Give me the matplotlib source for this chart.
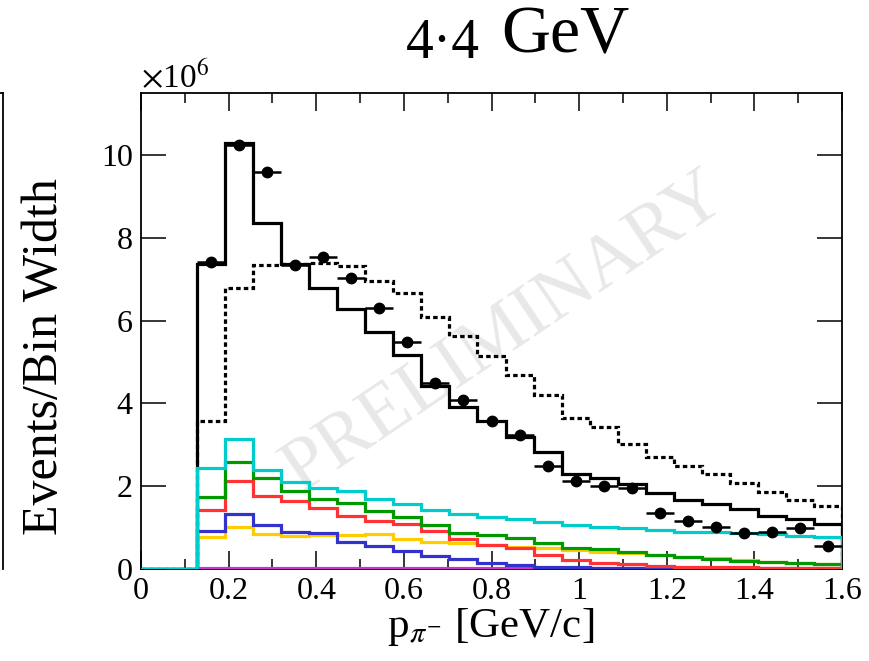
import numpy as np
import matplotlib
matplotlib.use("Agg")
import matplotlib.pyplot as plt
from matplotlib.lines import Line2D
from matplotlib.ticker import MultipleLocator, FuncFormatter

plt.rcParams['font.family'] = ['Liberation Serif', 'DejaVu Serif']
plt.rcParams['mathtext.fontset'] = 'stix'

# 25 bins of 0.064 GeV/c from 0 to 1.6, values in units of 1e6
bin_edges = np.linspace(0, 1.6, 26)

data_points = [None, None, 7.41, 10.25, 9.60, 7.34, 7.54, 7.02, 6.30, 5.48, 4.49, 4.08,
               3.57, 3.24, 2.50, 2.13, 2.01, 1.95, 1.35, 1.17, 1.01, 0.88, 0.89, 0.98, 0.56]
total_fit = [0, 0, 7.38, 10.30, 8.35, 7.38, 6.78, 6.27, 5.73, 5.17, 4.42, 3.91,
             3.57, 3.18, 2.82, 2.29, 2.21, 2.05, 1.84, 1.67, 1.57, 1.46, 1.29, 1.21, 1.09]
total_dotted = [0, 0, 3.57, 6.78, 7.34, 7.36, 7.40, 7.32, 6.96, 6.67, 6.10, 5.63,
                5.14, 4.69, 4.20, 3.66, 3.42, 3.02, 2.71, 2.50, 2.29, 2.07, 1.87, 1.67, 1.53]
cyan_vals = [0, 0, 2.45, 3.14, 2.39, 2.09, 1.95, 1.88, 1.69, 1.57, 1.42, 1.34,
             1.26, 1.20, 1.14, 1.06, 1.02, 0.98, 0.94, 0.90, 0.89, 0.86, 0.85, 0.80, 0.78]
green_vals = [0, 0, 1.73, 2.58, 2.19, 1.89, 1.69, 1.60, 1.40, 1.26, 1.06, 0.86,
              0.82, 0.74, 0.62, 0.50, 0.48, 0.40, 0.34, 0.29, 0.23, 0.20, 0.16, 0.14, 0.12]
red_vals = [0, 0, 1.43, 2.13, 1.77, 1.65, 1.47, 1.28, 1.17, 1.08, 0.91, 0.72,
            0.58, 0.50, 0.34, 0.22, 0.15, 0.12, 0.08, 0.06, 0.05, 0.04, 0.03, 0.03, 0.02]
blue_vals = [0, 0, 0.93, 1.32, 1.06, 0.90, 0.88, 0.66, 0.56, 0.44, 0.32, 0.23,
             0.15, 0.10, 0.06, 0.04, 0.03, 0.02, 0.02, 0.01, 0.01, 0.01, 0.01, 0.01, 0.01]
yellow_vals = [0, 0, 0.77, 1.02, 0.84, 0.80, 0.81, 0.82, 0.85, 0.72, 0.66, 0.64,
               0.58, 0.54, 0.50, 0.46, 0.42, 0.38, 0.34, 0.30, 0.26, 0.22, 0.18, 0.15, 0.12]
magenta_vals = [0, 0, 0.03, 0.03, 0.03, 0.03, 0.03, 0.02, 0.02, 0.02, 0.02, 0.02,
                0.02, 0.02, 0.02, 0.02, 0.02, 0.02, 0.02, 0.02, 0.02, 0.02, 0.02, 0.02, 0.02]

W, H = 869, 661
fig = plt.figure(figsize=(W / 100, H / 100), dpi=100)
ax = fig.add_axes([141 / W, 1 - 569 / H, (842 - 141) / W, (569 - 93) / H])

centers = 0.5 * (bin_edges[:-1] + bin_edges[1:])
half_width = 0.5 * (bin_edges[1] - bin_edges[0])

ax.text(0.83, 5.7, 'PRELIMINARY', rotation=34, color='#e8e8e8', fontsize=55,
        ha='center', va='center', zorder=0)

ax.stairs(total_dotted, bin_edges, color='black', lw=2.3, linestyle=(0, (1.4, 1.0)), zorder=3)
ax.stairs(total_fit, bin_edges, color='black', lw=2.3, zorder=3)

comps = [(magenta_vals, '#cc33cc'), (yellow_vals, '#ffcc00'), (blue_vals, '#3333cc'),
         (red_vals, '#ff3333'), (green_vals, '#009900'), (cyan_vals, '#00cccc')]
for vals, col in comps:
    ax.stairs(vals, bin_edges, color=col, lw=2.3, zorder=4)

dp = np.array([np.nan if v is None else v for v in data_points])
ax.errorbar(centers, dp, xerr=half_width, fmt='o', color='black', ms=7.5,
            elinewidth=1.8, capsize=0, zorder=5)

ax.set_xlim(0, 1.6)
ax.set_ylim(0, 11.5)
ax.xaxis.set_major_locator(MultipleLocator(0.2))
ax.xaxis.set_minor_locator(MultipleLocator(0.1))
ax.yaxis.set_major_locator(MultipleLocator(2))
fmt = FuncFormatter(lambda v, p: '%g' % round(v, 3))
ax.xaxis.set_major_formatter(fmt)
ax.yaxis.set_major_formatter(fmt)
ax.tick_params(which='major', direction='in', top=True, right=True, length=13, width=1.1,
               labelsize=23, pad=6)
ax.tick_params(which='minor', direction='in', top=True, right=True, length=7, width=1.1)
ax.tick_params(axis='y', which='major', length=18)
for s in ax.spines.values():
    s.set_linewidth(1.3)

fig.text(45 / W, 1 - 357 / H, 'Events/Bin Width', rotation=90, fontsize=36,
         ha='center', va='center')
fig.text(491 / W, 1 - 637 / H, r'p$_{\pi^{-}}$ [GeV/c]', fontsize=31,
         ha='center', va='baseline')
fig.text(141 / W, 1 - 88 / H, r'$\times$10$^{6}$', fontsize=24, ha='left', va='baseline')

fig.text(443 / W, 1 - 58 / H, '4\u00b74', fontsize=40, ha='center', va='baseline')
fig.text(565 / W, 1 - 53 / H, 'GeV', fontsize=49, ha='center', va='baseline')

# edge of the neighbouring panel on the left
fig.add_artist(Line2D([2.5 / W, 2.5 / W], [1 - 93 / H, 1 - 569 / H],
                      transform=fig.transFigure, color='black', lw=1.3))
fig.add_artist(Line2D([0, 3 / W], [1 - 93 / H, 1 - 93 / H],
                      transform=fig.transFigure, color='black', lw=1.3))

fig.savefig('out.png', dpi=100)
